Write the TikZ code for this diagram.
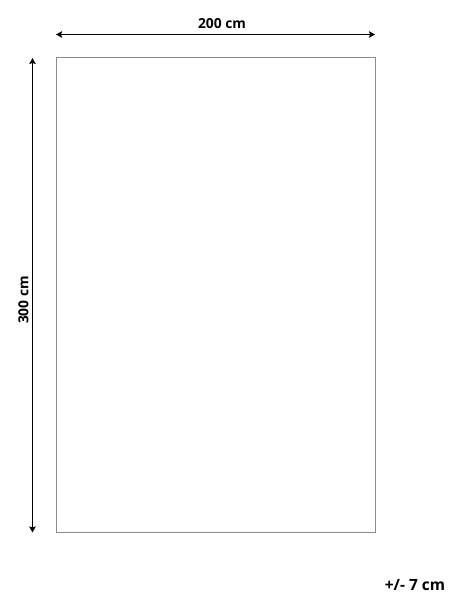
\documentclass[tikz,border=0pt]{standalone}
\usepackage{fontspec}
\setmainfont{Open Sans}
\usetikzlibrary{arrows.meta}
\begin{document}
\begin{tikzpicture}[x=1pt,y=1pt]

	\tikzstyle{outline} = [draw=black!45, line width=1pt]
	\tikzstyle{dim_arrow} = [{Stealth[length=6pt,width=6.5pt,inset=1pt]}-{Stealth[length=6pt,width=6.5pt,inset=1pt]}, line width=1.8pt]
	\tikzstyle{dim_label} = [font=\bfseries\fontsize{13.8}{16}\selectfont, inner sep=0pt]

	\useasboundingbox (0,0) rectangle (456,600);

%------------------------------------------------------------
	\coordinate (sw) at (56,67.5);
	\coordinate (ne) at (375,542);
	\draw[outline] (sw) rectangle (ne);

%------------------------------------------------------------

	\coordinate (top_l) at (56,565.5);
	\coordinate (top_r) at (375,565.5);
	\draw[dim_arrow] (top_l) -- (top_r);
	\node[dim_label] (width) at (222,576) {200 cm};

%------------------------------------------------------------

	\coordinate (left_t) at (32.5,542);
	\coordinate (left_b) at (32.5,67.5);
	\draw[dim_arrow] (left_t) -- (left_b);
	\node[dim_label, rotate=90] (length) at (23.5,300) {300 cm};

%------------------------------------------------------------

	\node[dim_label, font=\bfseries\fontsize{15.5}{18}\selectfont] (tolerance) at (415,15) {+/- 7 cm};

\end{tikzpicture}
\end{document}
